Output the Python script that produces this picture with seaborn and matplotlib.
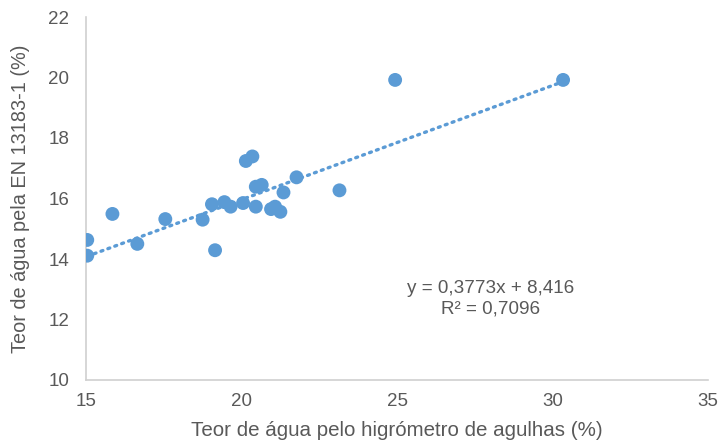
import numpy as np
import pandas as pd
import matplotlib
matplotlib.use("Agg")
import matplotlib.pyplot as plt
import seaborn as sns

# Water content measurements: needle hygrometer vs EN 13183-1 oven-dry method
higrometro = [15.04, 15.04, 15.85, 16.65, 17.55, 18.75, 19.15, 19.05, 19.45, 19.65,
              20.05, 20.14, 20.35, 20.46, 20.46, 20.65, 20.95, 21.08, 21.25, 21.35,
              21.77, 23.15, 24.94, 30.34]
en13183 = [14.63, 14.11, 15.49, 14.50, 15.32, 15.30, 14.29, 15.81, 15.88, 15.73,
           15.85, 17.24, 17.39, 15.73, 16.39, 16.45, 15.65, 15.73, 15.56, 16.20,
           16.70, 16.27, 19.92, 19.92]

# Linear trend reported on the chart
slope = 0.3773
intercept = 8.416
r2 = 0.7096

x_ticks = [15, 20, 25, 30, 35]
y_ticks = [10, 12, 14, 16, 18, 20, 22]

df = pd.DataFrame({"x": higrometro, "y": en13183})

sns.set_theme(style="white")
plt.rcParams["font.family"] = ["Liberation Sans", "DejaVu Sans"]

blue = "#5B9BD5"
grey_text = "#595959"
grey_axis = "#D0D0D0"

fig = plt.figure(figsize=(7.18, 4.41), dpi=100)
ax = fig.add_axes([86 / 718, 61 / 441, 622 / 718, 363 / 441])

# Trendline across the observed range
xs = np.array([min(higrometro), max(higrometro)])
ax.plot(xs, slope * xs + intercept, linestyle=(0, (0.6, 1.6)),
        dash_capstyle="round", color=blue, linewidth=2.4, zorder=2)

sns.scatterplot(data=df, x="x", y="y", ax=ax, s=100, color=blue,
                edgecolor="none", linewidth=0, zorder=3)

ax.set_xlim(15, 35)
ax.set_ylim(10, 22)
ax.set_xticks(x_ticks)
ax.set_yticks(y_ticks)
ax.tick_params(axis="both", labelsize=13.5, colors=grey_text, length=0)
ax.tick_params(axis="x", pad=9)
ax.tick_params(axis="y", pad=12)

for side in ["top", "right"]:
    ax.spines[side].set_visible(False)
for side in ["left", "bottom"]:
    ax.spines[side].set_color(grey_axis)
    ax.spines[side].set_linewidth(1.2)

ax.set_xlabel("Teor de água pelo higrómetro de agulhas (%)", fontsize=14.8,
              color=grey_text, labelpad=8)
ax.set_ylabel("Teor de água pela EN 13183-1 (%)", fontsize=14.3,
              color=grey_text, labelpad=13)

eq = f"y = {slope:.4f}x + {intercept:.3f}".replace(".", ",")
r2_txt = f"R² = {r2:.4f}".replace(".", ",")
ax.text(28.0, 12.68, eq + "\n" + r2_txt, ha="center", va="center",
        fontsize=13.6, color=grey_text, linespacing=1.25)

fig.savefig("out.png", dpi=100)
